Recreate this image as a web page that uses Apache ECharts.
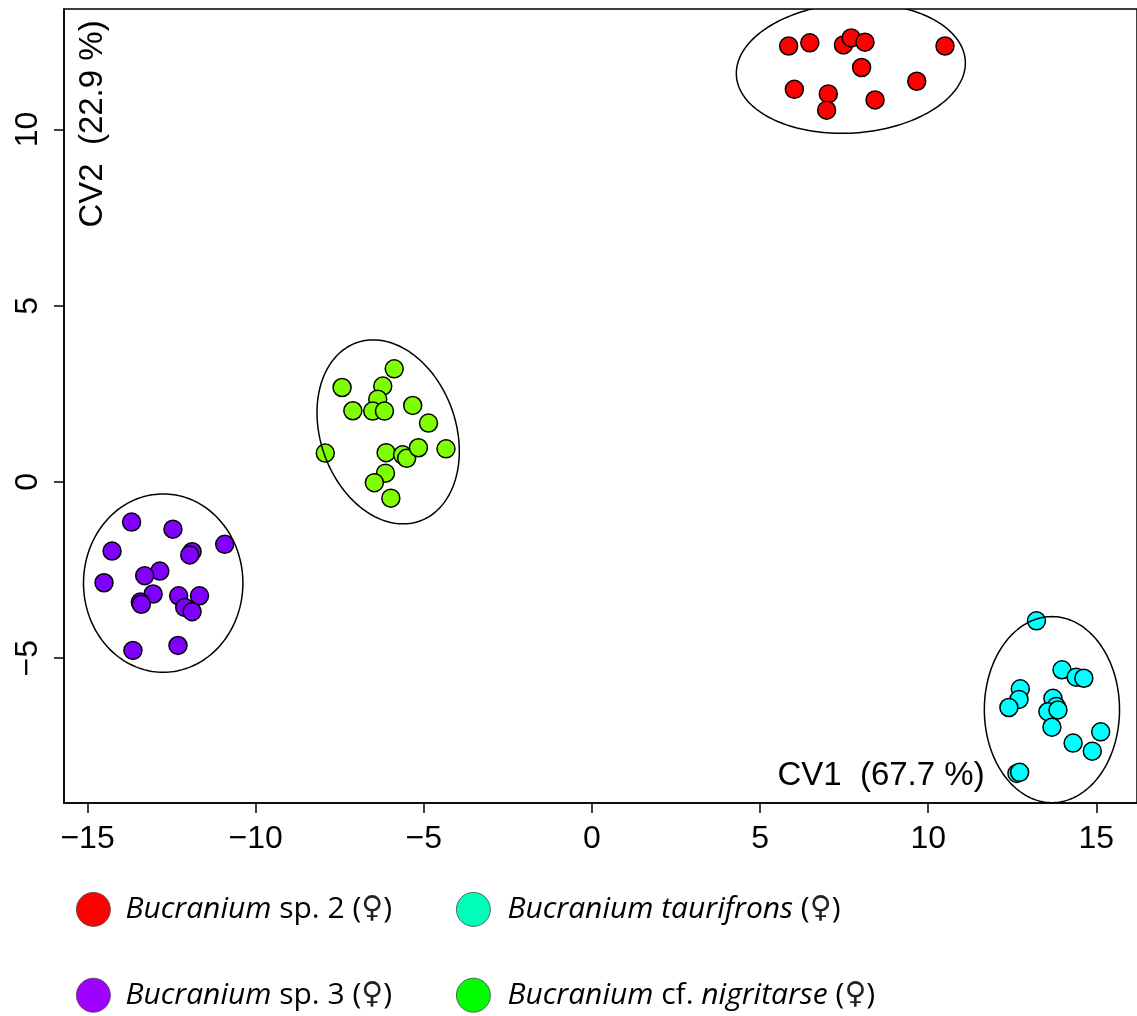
<!DOCTYPE html>
<html>
<head>
<meta charset="utf-8">
<script src="https://cdn.jsdelivr.net/npm/echarts@6/dist/echarts.min.js"></script>
<style>
html,body{margin:0;padding:0;background:#fff;}
#chart{width:1137px;height:1016px;}
</style>
</head>
<body>
<div id="chart"></div>
<script>
// ---- group names (legend order: left column, right column) ----
const groupNames = ['Bucranium sp. 2 (♀)', 'Bucranium taurifrons (♀)', 'Bucranium sp. 3 (♀)', 'Bucranium cf. nigritarse (♀)'];

// ---- CV scores (CV1, CV2) ----
const sp2CV1 = [5.85, 6.48, 7.48, 7.71, 8.12, 10.50, 8.02, 9.66, 6.02, 7.03, 6.98, 8.42];
const sp2CV2 = [12.37, 12.46, 12.40, 12.60, 12.48, 12.37, 11.76, 11.37, 11.14, 11.01, 10.55, 10.84];

const taurCV1 = [13.22, 13.98, 14.40, 14.63, 12.74, 12.70, 12.40, 13.71, 13.81, 13.56, 13.86, 13.68, 15.13, 14.31, 14.88, 12.64, 12.72];
const taurCV2 = [-3.94, -5.33, -5.54, -5.57, -5.87, -6.17, -6.40, -6.14, -6.37, -6.52, -6.47, -6.96, -7.09, -7.41, -7.64, -8.27, -8.24];

const sp3CV1 = [-13.69, -12.46, -10.92, -14.27, -11.89, -11.96, -12.85, -13.30, -14.51, -13.05, -13.43, -13.40, -12.29, -11.67, -12.11, -11.89, -12.31, -13.65];
const sp3CV2 = [-1.14, -1.34, -1.77, -1.96, -1.98, -2.07, -2.53, -2.66, -2.86, -3.18, -3.41, -3.47, -3.23, -3.23, -3.56, -3.68, -4.64, -4.78];

const nigCV1 = [-5.88, -7.43, -6.22, -6.37, -7.11, -6.52, -6.17, -5.33, -4.86, -7.93, -6.12, -5.63, -5.51, -5.16, -4.34, -6.14, -6.47, -5.98];
const nigCV2 = [3.21, 2.68, 2.72, 2.35, 2.02, 2.01, 2.01, 2.17, 1.67, 0.82, 0.83, 0.77, 0.67, 0.97, 0.94, 0.25, -0.02, -0.46];

// ---- ellipse parameters: centre CV1, centre CV2, semi-axis a, semi-axis b, angle of a (deg) ----
const ellCentreX = [7.70, 13.68, -12.75, -6.06];
const ellCentreY = [11.74, -6.46, -2.87, 1.42];
const ellSemiA   = [3.41, 2.01, 2.37, 2.70];
const ellSemiB   = [1.84, 2.64, 2.53, 2.00];
const ellAngle   = [3.5, 0, 0, 112.4];

// ---- colours ----
const pointColors  = ['#FF0000', '#00FFFF', '#8000FF', '#7FFF00'];
const legendColors = ['#FF0000', '#00FFB8', '#A000FF', '#00FF00'];

// ---- axis ticks ----
const xTicks = [-15, -10, -5, 0, 5, 10, 15];
const yTicks = [-5, 0, 5, 10];

const seriesX = [sp2CV1, taurCV1, sp3CV1, nigCV1];
const seriesY = [sp2CV2, taurCV2, sp3CV2, nigCV2];

const legendRich = {
  'Bucranium sp. 2 (♀)': '{i|Bucranium }{n|sp. 2 (}{f|♀}{n|)}',
  'Bucranium sp. 3 (♀)': '{i|Bucranium }{n|sp. 3 (}{f|♀}{n|)}',
  'Bucranium taurifrons (♀)': '{i|Bucranium taurifrons }{n|(}{f|♀}{n|)}',
  'Bucranium cf. nigritarse (♀)': '{i|Bucranium }{n|cf. }{i|nigritarse }{n|(}{f|♀}{n|)}'
};

const minusFmt = v => (v < 0 ? '\u2212' + Math.abs(v) : String(v));
const axisFont = '"Liberation Sans", Arial, Helvetica, sans-serif';
const legendFont = '"Open Sans", "Noto Sans", sans-serif';
const legendSize = 30;

const scatterSeries = groupNames.map((name, g) => ({
  name: name,
  type: 'scatter',
  symbol: 'circle',
  symbolSize: 18,
  data: seriesX[g].map((x, i) => [x, seriesY[g][i]]),
  itemStyle: { color: pointColors[g], borderColor: '#000', borderWidth: 1.5, opacity: 1 },
  emphasis: { disabled: true },
  z: 2
}));

const ellipseSeries = {
  type: 'custom',
  name: 'ellipses',
  coordinateSystem: 'cartesian2d',
  clip: true,
  silent: true,
  z: 3,
  encode: { x: 0, y: 1 },
  data: ellCentreX.map((cx, i) => [cx, ellCentreY[i], ellSemiA[i], ellSemiB[i], ellAngle[i]]),
  renderItem: function (params, api) {
    const cx = api.value(0), cy = api.value(1), a = api.value(2), b = api.value(3);
    const th = api.value(4) * Math.PI / 180;
    const pts = [];
    const N = 180;
    for (let k = 0; k < N; k++) {
      const t = 2 * Math.PI * k / N;
      const dx = a * Math.cos(t), dy = b * Math.sin(t);
      pts.push(api.coord([cx + dx * Math.cos(th) - dy * Math.sin(th), cy + dx * Math.sin(th) + dy * Math.cos(th)]));
    }
    return {
      type: 'polygon',
      shape: { points: pts },
      style: { fill: 'none', stroke: '#000', lineWidth: 1.5 }
    };
  }
};

function makeLegend(items, left, iw) {
  return {
    orient: 'vertical',
    left: left,
    top: 892,
    padding: 0,
    itemWidth: iw,
    itemHeight: 34,
    itemGap: 51,
    icon: 'circle',
    selectedMode: false,
    data: items.map(g => ({
      name: groupNames[g],
      itemStyle: { color: legendColors[g], borderColor: '#444', borderWidth: 0.8 }
    })),
    formatter: name => legendRich[name],
    textStyle: {
      color: '#000',
      fontFamily: legendFont,
      fontSize: legendSize,
      rich: {
        i: { fontStyle: 'italic', fontFamily: legendFont, fontSize: legendSize, color: '#000' },
        n: { fontStyle: 'normal', fontFamily: legendFont, fontSize: legendSize, color: '#000' },
        f: { fontStyle: 'normal', fontFamily: '"DejaVu Sans", sans-serif', fontSize: legendSize, color: '#222' }
      }
    }
  };
}

const chart = echarts.init(document.getElementById('chart'), null, { renderer: 'canvas' });
chart.setOption({
  animation: false,
  backgroundColor: '#fff',
  grid: {
    left: 64, top: 9, right: -2, bottom: 213,
    show: true, borderColor: '#000', borderWidth: 1.5,
    containLabel: false
  },
  xAxis: {
    type: 'value',
    min: -15.70, max: 16.21,
    splitLine: { show: false },
    axisLine: { show: true, onZero: false, lineStyle: { color: '#000', width: 1.5 } },
    axisTick: { show: true, length: 10, customValues: xTicks, lineStyle: { color: '#000', width: 1.5 } },
    axisLabel: { customValues: xTicks, formatter: minusFmt, fontSize: 32, fontFamily: axisFont, color: '#000', margin: 20 }
  },
  yAxis: {
    type: 'value',
    min: -9.11, max: 13.42,
    splitLine: { show: false },
    axisLine: { show: true, onZero: false, lineStyle: { color: '#000', width: 1.5 } },
    axisTick: { show: true, length: 10, customValues: yTicks, lineStyle: { color: '#000', width: 1.5 } },
    axisLabel: { customValues: yTicks, formatter: minusFmt, rotate: 90, fontSize: 32, fontFamily: axisFont, color: '#000', margin: 20 }
  },
  legend: [makeLegend([0, 2], 76, 54), makeLegend([1, 3], 456, 58)],
  graphic: [
    {
      type: 'text', x: 881, y: 776, silent: true,
      style: { text: 'CV1  (67.7 %)', font: '33px ' + axisFont, fill: '#000', textAlign: 'center', textVerticalAlign: 'middle' }
    },
    {
      type: 'text', x: 93, y: 124, rotation: Math.PI / 2, silent: true,
      style: { text: 'CV2  (22.9 %)', font: '33px ' + axisFont, fill: '#000', textAlign: 'center', textVerticalAlign: 'middle' }
    }
  ],
  series: scatterSeries.concat([ellipseSeries])
});
</script>
</body>
</html>
